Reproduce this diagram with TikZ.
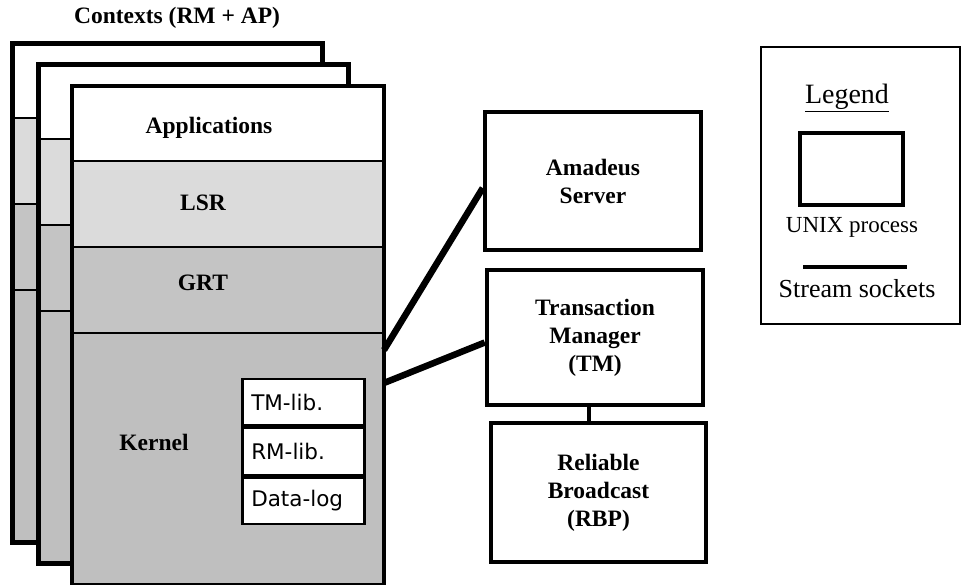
\documentclass[tikz,border=0pt]{standalone}
\usepackage{fontspec}
\setmainfont{Liberation Serif}
\newfontfamily\libfont{DejaVu Sans}
\usetikzlibrary{calc}

\definecolor{lsrgray}{gray}{0.86}
\definecolor{grtgray}{gray}{0.77}
\definecolor{kergray}{gray}{0.75}

% One of the context frames stacked behind the front one
\newcommand\backframe[2]{%
  \filldraw[fill=white, line width=2pt] (#1,#2) rectangle ++(310,74);
  \filldraw[fill=lsrgray, line width=2pt] (#1,#2+74) rectangle ++(310,86);
  \filldraw[fill=grtgray, line width=2pt] (#1,#2+160) rectangle ++(310,86);
  \filldraw[fill=kergray, line width=2pt] (#1,#2+246) rectangle ++(310,252);
  \draw[line width=5pt] (#1,#2) rectangle ++(310,498);
}

\begin{document}
\begin{tikzpicture}[x=1pt, y=-1pt,
  lbl/.style={font=\bfseries\fontsize{23.5}{28}\selectfont, align=center, inner sep=0pt},
  band/.style={rectangle, draw=black, line width=2pt, inner sep=0pt,
    minimum width=310pt, anchor=north west},
  lib/.style={rectangle, draw=black, fill=white, line width=2.5pt,
    minimum height=46.5pt, text width=104pt, inner xsep=9pt, inner ysep=0pt,
    align=left, anchor=north west, font=\libfont\fontsize{21.5}{24}\selectfont},
  proc/.style={rectangle, draw=black, fill=white, line width=4.5pt,
    minimum width=216pt, align=center,
    font=\bfseries\fontsize{23.5}{28}\selectfont},
  sock/.style={line width=6.5pt}]

\useasboundingbox (0,0) rectangle (962,585);
\fill[white] (0,0) rectangle (962,585);

% title above the stack of contexts
\node[lbl] (title) at (177,18) {Contexts (RM + AP)};

% contexts behind
\backframe{12}{44}
\backframe{38}{65}

% front context with its layers
\node[band, fill=white,   minimum height=74pt]  (apps)   at (72,86)  {};
\node[band, fill=lsrgray, minimum height=86pt]  (lsr)    at (72,160) {};
\node[band, fill=grtgray, minimum height=86pt]  (grt)    at (72,246) {};
\node[band, fill=kergray, minimum height=251pt] (kernel) at (72,332) {};
\draw[line width=4.5pt] (apps.north west) rectangle (kernel.south east);

\node[lbl] (tapps)   at (209,128) {Applications};
\node[lbl] (tlsr)    at (203,203) {LSR};
\node[lbl] (tgrt)    at (203,283) {GRT};
\node[lbl] (tkernel) at (154,442) {Kernel};

% libraries inside the kernel
\node[lib] (tmlib)   at (241,378)           {TM-lib.};
\node[lib] (rmlib)   at (tmlib.south west)  {RM-lib.};
\node[lib] (datalog) at (rmlib.south west)  {Data-log};

% server processes
\node[proc, minimum height=138pt] (amadeus) at (593,181)   {Amadeus\\Server};
\node[proc, minimum height=135pt] (tm)      at (595,337.5) {Transaction\\Manager\\(TM)};
\node[proc, minimum height=139pt, minimum width=215pt] (rbp) at (598.5,492.5) {Reliable\\Broadcast\\(RBP)};

% stream sockets
\draw[sock] ([yshift=-18pt]kernel.north east) -- ([yshift=-7pt]amadeus.west);
\draw[sock] ([yshift=-51pt]kernel.north east) -- ([yshift=-5pt]tm.west);
\draw[line width=4pt] ([xshift=-6pt]tm.south) -- ([xshift=-6pt]tm.south |- rbp.north);

% legend
\node[rectangle, draw=black, line width=1.8pt, minimum width=199pt,
      minimum height=277pt, anchor=north west] (legend) at (760,46) {};
\node[font=\fontsize{28}{32}\selectfont, inner sep=0pt] (legtitle) at (847,98) {\underline{Legend}};
\node[rectangle, draw=black, line width=4pt, minimum width=103pt,
      minimum height=72pt] (legproc) at (851.5,169) {};
\node[font=\fontsize{23}{28}\selectfont, inner sep=0pt] (legproctxt) at (852,227) {UNIX process};
\coordinate (s1) at (803,267);
\coordinate (s2) at (907,267);
\draw[line width=4pt] (s1) -- (s2);
\node[font=\fontsize{26}{30}\selectfont, inner sep=0pt] (legsock) at (857,289) {Stream sockets};

\end{tikzpicture}
\end{document}
